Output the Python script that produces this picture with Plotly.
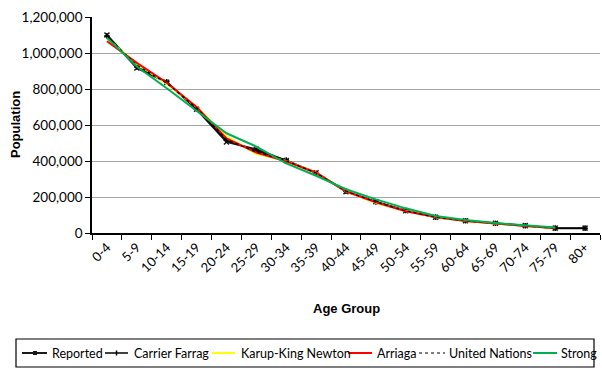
import plotly.graph_objects as go

ages = ["0-4", "5-9", "10-14", "15-19", "20-24", "25-29", "30-34", "35-39", "40-44",
        "45-49", "50-54", "55-59", "60-64", "65-69", "70-74", "75-79", "80+"]
reported = [1100000, 917000, 837000, 687000, 506000, 465000, 402000, 335000, 230000,
            174000, 124000, 87000, 68000, 54000, 41000, 27000, 27000]
carrier_farrag = [1095000, 922000, 840000, 690000, 515000, 456000, 405000, 332000, 232000,
                  172000, 125000, 88000, 68000, 54000, 40000, 27000, 27000]
karup_king_newton = [1080000, 940000, 830000, 700000, 535000, 440000, 400000, 335000, 232000,
                     168000, 122000, 88000, 67000, 52000, 39000, 28000]
arriaga = [1065000, 945000, 835000, 700000, 525000, 447000, 398000, 335000, 232000,
           170000, 121000, 89000, 67000, 52000, 39000, 28000]
united_nations = [1090000, 932000, 832000, 695000, 520000, 450000, 402000, 333000, 233000,
                  172000, 123000, 88000, 68000, 53000, 40000, 28000]
strong = [1085000, 925000, 804000, 680000, 554000, 480000, 387000, 318000, 243000,
          187000, 137000, 95000, 72000, 55000, 42000, 30000]

tick_vals = [0, 200000, 400000, 600000, 800000, 1000000, 1200000]
tick_text = ["0", "200,000", "400,000", "600,000", "800,000", "1,000,000", "1,200,000"]

series_names = ["Reported", "Carrier Farrag", "Karup-King Newton", "Arriaga",
                "United Nations", "Strong"]

# figure geometry (pixels)
W, H = 602, 387
ML, MR, MT, MB = 92, 2, 17, 154
PW, PH = W - ML - MR, H - MT - MB


def px(x):
    return (x - ML) / PW


def py(y):
    return (H - MB - y) / PH


fig = go.Figure()
fig.add_trace(go.Scatter(x=ages, y=reported, name=series_names[0], mode="lines+markers",
                         line=dict(color="#1a1a1a", width=2),
                         marker=dict(symbol="x-thin", size=5, line=dict(color="#1a1a1a", width=1.5))))
fig.add_trace(go.Scatter(x=ages, y=carrier_farrag, name=series_names[1], mode="lines+markers",
                         line=dict(color="#000000", width=1.5),
                         marker=dict(symbol="cross-thin", size=4, line=dict(color="#000000", width=1.5))))
fig.add_trace(go.Scatter(x=ages[:16], y=karup_king_newton, name=series_names[2], mode="lines",
                         line=dict(color="#FFFF00", width=2)))
fig.add_trace(go.Scatter(x=ages[:16], y=arriaga, name=series_names[3], mode="lines",
                         line=dict(color="#FF0000", width=2)))
fig.add_trace(go.Scatter(x=ages[:16], y=united_nations, name=series_names[4], mode="lines",
                         line=dict(color="#000000", width=1.2, dash="dot")))
fig.add_trace(go.Scatter(x=ages[:16], y=strong, name=series_names[5], mode="lines",
                         line=dict(color="#00B050", width=2)))

# ---- manual legend (box, sample lines, labels) ----
shapes = [dict(type="rect", xref="paper", yref="paper", x0=px(16), x1=px(594),
               y0=py(367), y1=py(339), line=dict(color="black", width=1.2),
               fillcolor="rgba(0,0,0,0)", layer="above")]
ly = py(353)
legend_items = [
    # (line start, line end, text x, color, dash, width)
    (22, 47, 50, "#1a1a1a", "solid", 2),
    (105, 128, 131.5, "#000000", "solid", 1.5),
    (212, 235, 238.5, "#FFFF00", "solid", 2),
    (348, 372, 374.5, "#FF0000", "solid", 2),
    (419, 445, 447, "#000000", "dot", 1.2),
    (533, 557, 558.5, "#00B050", "solid", 2),
]
annotations = []
for name, (x0, x1, tx, col, dash, wd) in zip(series_names, legend_items):
    shapes.append(dict(type="line", xref="paper", yref="paper", x0=px(x0), x1=px(x1),
                       y0=ly, y1=ly, line=dict(color=col, width=wd, dash=dash)))
    annotations.append(dict(text=name, xref="paper", yref="paper", x=px(tx), y=ly,
                            xanchor="left", yanchor="middle", showarrow=False,
                            font=dict(family="Lato", size=12.5, color="black")))
# small marker glyphs on the Reported / Carrier Farrag samples
shapes.append(dict(type="rect", xref="paper", yref="paper", x0=px(33), x1=px(37),
                   y0=py(355), y1=py(351), fillcolor="#1a1a1a", line=dict(width=0)))
shapes.append(dict(type="line", xref="paper", yref="paper", x0=px(116.5), x1=px(116.5),
                   y0=py(355.5), y1=py(350.5), line=dict(color="black", width=1.5)))

annotations += [
    dict(text="<b>Age Group</b>", xref="paper", yref="paper", x=0.5, y=py(308),
         xanchor="center", yanchor="middle", showarrow=False,
         font=dict(family="Liberation Sans", size=13)),
    dict(text="<b>Population</b>", xref="paper", yref="paper", x=px(15), y=0.5,
         xanchor="center", yanchor="middle", showarrow=False, textangle=-90,
         font=dict(family="Liberation Sans", size=13)),
]

fig.update_layout(
    width=W, height=H,
    margin=dict(l=ML, r=MR, t=MT, b=MB, autoexpand=False),
    plot_bgcolor="white", paper_bgcolor="white",
    font=dict(family="Lato", size=12, color="black"),
    showlegend=False,
    xaxis=dict(type="category", showline=True, linecolor="black", linewidth=1.5,
               ticks="outside", ticklen=5, tickcolor="black", tickson="boundaries",
               tickangle=-45, showgrid=False, range=[-0.5, 16.5],
               tickfont=dict(size=13, family="Lato")),
    yaxis=dict(range=[0, 1200000], tickvals=tick_vals, ticktext=tick_text,
               showline=True, linecolor="black", linewidth=1.5, ticks="outside",
               ticklen=5, tickcolor="black", showgrid=True, gridcolor="#a6a6a6",
               gridwidth=1.2, tickfont=dict(size=13.5, family="Lato"), zeroline=False),
    shapes=shapes,
    annotations=annotations,
)

fig.write_html("out.html", config={"displayModeBar": False},
               post_script="document.body.style.margin='0';")
